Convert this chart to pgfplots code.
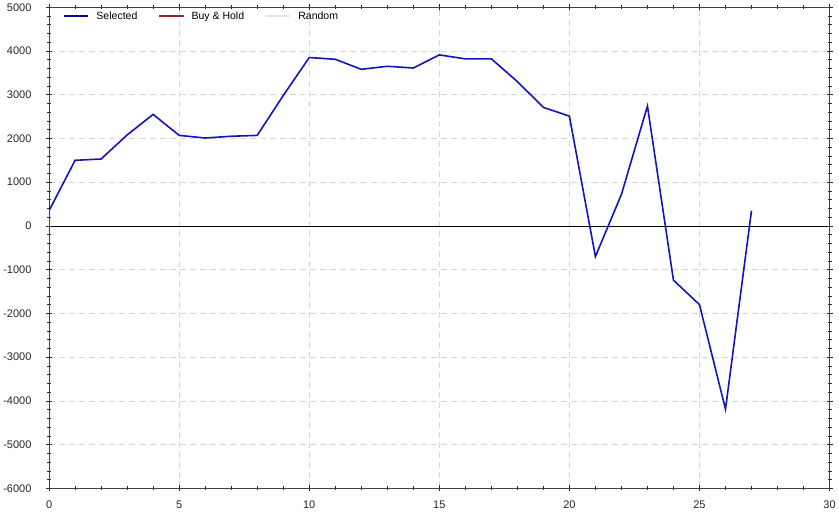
\documentclass[border=0pt]{standalone}
\usepackage{fontspec}
\setmainfont{Liberation Sans}
\usepackage{pgfplots}
\pgfplotsset{compat=1.18}
\definecolor{selblue}{RGB}{20,20,190}
\definecolor{legblue}{RGB}{10,10,150}
\definecolor{bhred}{RGB}{150,40,40}
\definecolor{rndgray}{RGB}{228,228,228}
\definecolor{gridgray}{RGB}{215,215,215}
\begin{document}
\begin{tikzpicture}
\begin{axis}[
scale only axis,
width=777bp, height=479bp,
xmin=0, xmax=30, ymin=-6000, ymax=5000,
xtick={0,5,...,30},
ytick={-6000,-5000,...,5000},
minor x tick num=4,
minor y tick num=4,
tick align=center,
major tick length=6bp,
minor tick length=4bp,
tick style={black!85, line width=0.6pt},
axis line style={black!75, line width=0.8pt},
grid=major,
major grid style={gridgray, dash pattern=on 6bp off 4bp, line width=0.6pt},
extra y ticks={0},
extra y tick labels={},
extra y tick style={grid=major, major grid style={black, solid, line width=0.7pt}},
/pgf/number format/assume math mode=true,
/pgf/number format/1000 sep={},
ticklabel style={font=\fontsize{11}{13}\selectfont, text=black!85},
xticklabel style={yshift=-6bp},
yticklabel style={xshift=-11bp},
legend image code/.code={\draw[#1] (0bp,0bp) -- (24bp,0bp);},
legend style={at={(0,1)}, xshift=11bp, yshift=-9bp, anchor=west, draw=none, fill=none,
  font=\fontsize{10.5}{12}\selectfont, legend columns=-1,
  /tikz/every odd column/.append style={column sep=5bp},
  /tikz/every even column/.append style={column sep=19bp}},
legend cell align=left,
]
\addplot[selblue, line width=1.6pt, forget plot] coordinates {
(0,350) (1,1500) (2,1530) (3,2080) (4,2550) (5,2070) (6,2010) (7,2050)
(8,2070) (9,2980) (10,3850) (11,3810) (12,3580) (13,3650) (14,3610)
(15,3910) (16,3820) (17,3820) (18,3300) (19,2710) (20,2510) (21,-700)
(22,720) (23,2740) (24,-1240) (25,-1800) (26,-4190) (27,350)
};
\addlegendimage{legblue, line width=2bp}
\addlegendentry{Selected}
\addlegendimage{bhred, line width=2bp}
\addlegendentry{Buy \& Hold}
\addlegendimage{rndgray, line width=2bp}
\addlegendentry{Random}
\end{axis}
\end{tikzpicture}
\end{document}
